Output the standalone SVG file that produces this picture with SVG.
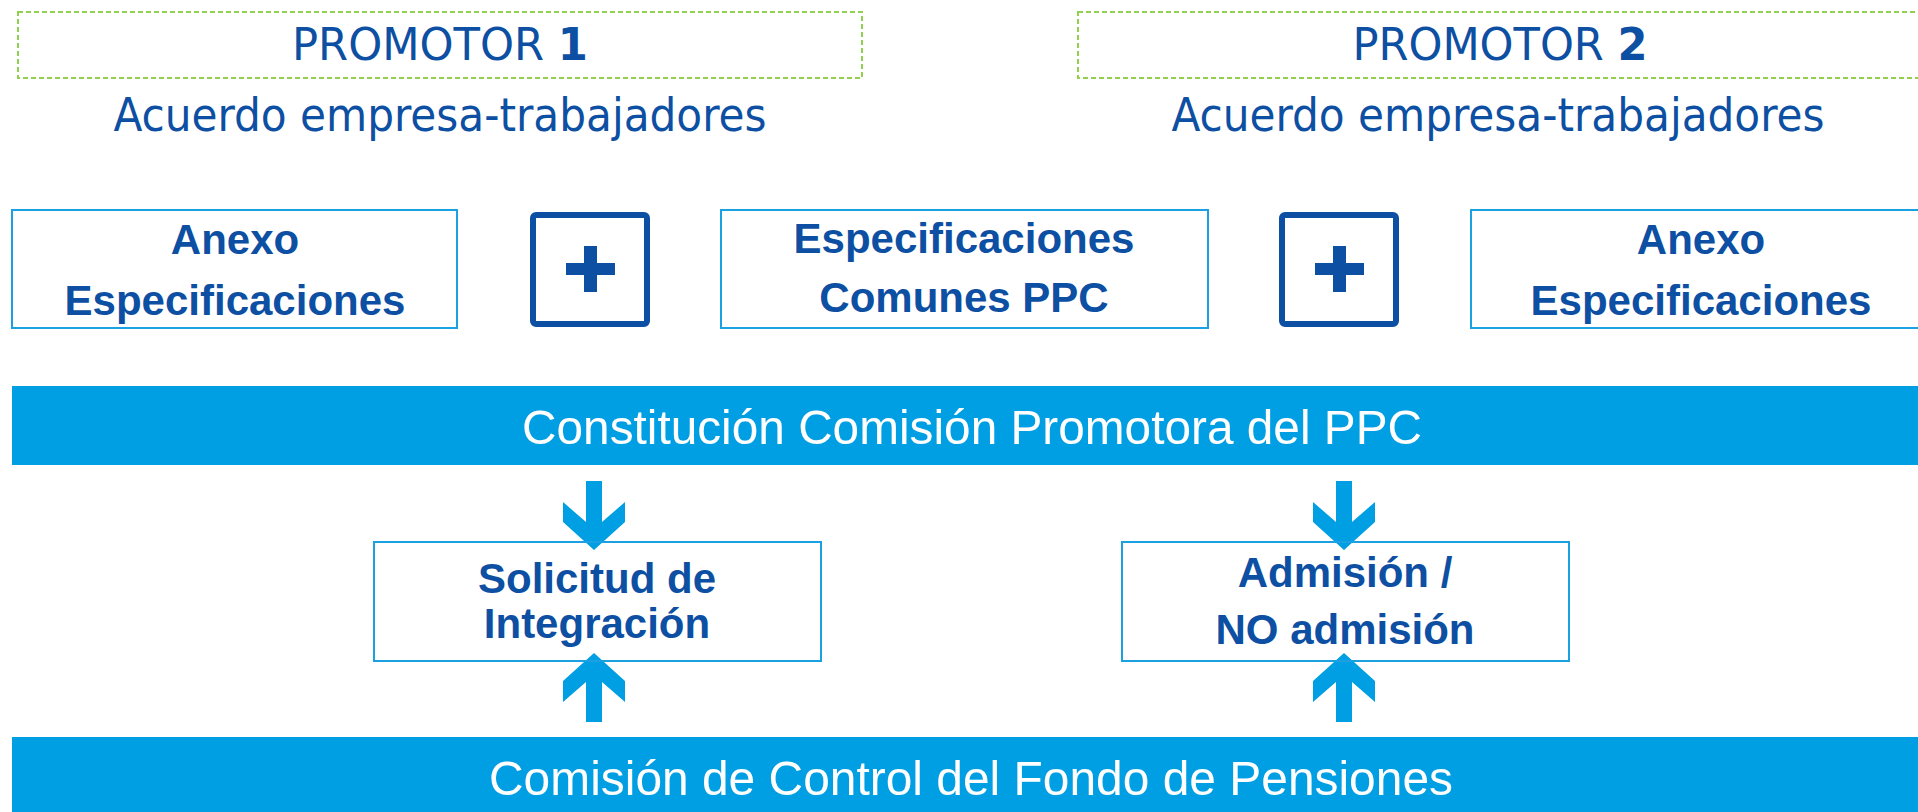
<svg xmlns="http://www.w3.org/2000/svg" width="1918" height="812" viewBox="0 0 1918 812">
<style>
.dash{fill:none;stroke:#92D050;stroke-width:2;stroke-dasharray:5 3}
.hdr{font-family:'DejaVu Sans Condensed','DejaVu Sans',sans-serif;font-stretch:condensed;fill:#0D4FA2;text-anchor:middle}
.box{fill:#fff;stroke:#1BA1E2;stroke-width:2}
.plusbox{fill:#fff;stroke:#0D4FA2;stroke-width:6}
.plus{fill:#0D4FA2}
.bt{font-family:'Liberation Sans',Arial,sans-serif;font-weight:bold;font-size:42px;fill:#0D4FA2;text-anchor:middle}
.bar{fill:#009FE3}
.bart{font-family:'Liberation Sans',Arial,sans-serif;font-size:49px;fill:#fff;text-anchor:middle}
.arr{fill:#009FE3}
</style>
<rect width="1918" height="812" fill="#fff"/>
<g id="promotor1">
<rect class="dash" x="18" y="12" width="844" height="66"/>
<text class="hdr" x="440" y="60" font-size="44" textLength="296" lengthAdjust="spacingAndGlyphs">PROMOTOR <tspan font-weight="bold">1</tspan></text>
<text class="hdr" x="440" y="131" font-size="46" textLength="653" lengthAdjust="spacingAndGlyphs">Acuerdo empresa-trabajadores</text>
</g>
<g id="promotor2">
<rect class="dash" x="1078" y="12" width="860" height="66"/>
<text class="hdr" x="1500" y="60" font-size="44" textLength="295" lengthAdjust="spacingAndGlyphs">PROMOTOR <tspan font-weight="bold">2</tspan></text>
<text class="hdr" x="1498" y="131" font-size="46" textLength="653" lengthAdjust="spacingAndGlyphs">Acuerdo empresa-trabajadores</text>
</g>
<g id="anexo1">
<rect class="box" x="12" y="210" width="445" height="118"/>
<text class="bt" x="235" y="254">Anexo</text>
<text class="bt" x="235" y="315">Especificaciones</text>
</g>
<g id="plus1">
<rect class="plusbox" x="533" y="215" width="114" height="109" rx="3"/>
<rect class="plus" x="566" y="263" width="49" height="12"/>
<rect class="plus" x="584" y="246" width="13" height="46"/>
</g>
<g id="comunes">
<rect class="box" x="721" y="210" width="487" height="118"/>
<text class="bt" x="964" y="253">Especificaciones</text>
<text class="bt" x="964" y="312">Comunes PPC</text>
</g>
<g id="plus2">
<rect class="plusbox" x="1282" y="215" width="114" height="109" rx="3"/>
<rect class="plus" x="1315" y="263" width="49" height="12"/>
<rect class="plus" x="1333" y="246" width="13" height="46"/>
</g>
<g id="anexo2">
<rect class="box" x="1471" y="210" width="460" height="118"/>
<text class="bt" x="1701" y="254">Anexo</text>
<text class="bt" x="1701" y="315">Especificaciones</text>
</g>
<g id="constitucion">
<rect class="bar" x="12" y="386" width="1906" height="79"/>
<text class="bart" x="972" y="444" textLength="900" lengthAdjust="spacingAndGlyphs">Constitución Comisión Promotora del PPC</text>
</g>
<g id="connectors">
<polygon class="arr" points="586,481 602,481 602,522 625,502 625,522 594,550 563,522 563,502 586,522"/>
<polygon class="arr" points="594,653 625,681 625,702 602,682 602,722 586,722 586,682 563,702 563,681"/>
<polygon class="arr" points="1336,481 1352,481 1352,522 1375,502 1375,522 1344,550 1313,522 1313,502 1336,522"/>
<polygon class="arr" points="1344,653 1375,681 1375,702 1352,682 1352,722 1336,722 1336,682 1313,702 1313,681"/>
</g>
<g id="solicitud">
<rect class="box" x="374" y="542" width="447" height="119" fill-opacity="0"/>
<text class="bt" x="597" y="593">Solicitud de</text>
<text class="bt" x="597" y="638">Integración</text>
</g>
<g id="admision">
<rect class="box" x="1122" y="542" width="447" height="119" fill-opacity="0"/>
<text class="bt" x="1345" y="587">Admisión /</text>
<text class="bt" x="1345" y="644">NO admisión</text>
</g>
<g id="comision">
<rect class="bar" x="12" y="737" width="1906" height="75"/>
<text class="bart" x="971" y="795" textLength="964" lengthAdjust="spacingAndGlyphs">Comisión de Control del Fondo de Pensiones</text>
</g>
</svg>
